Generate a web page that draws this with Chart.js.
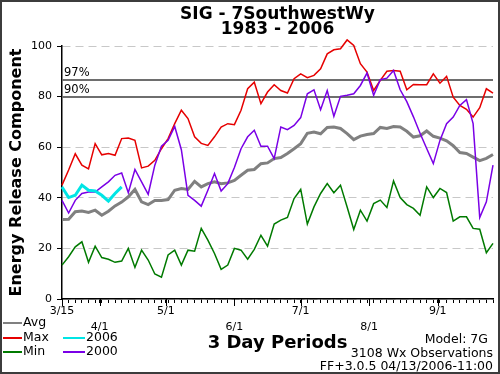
<!DOCTYPE html>
<html>
<head>
<meta charset="utf-8">
<title>SIG - 7SouthwestWy ERC</title>
<script src="https://cdn.jsdelivr.net/npm/chart.js@4.4.1/dist/chart.umd.min.js"></script>
<style>
  html, body { margin: 0; padding: 0; background: #fff; }
  #wrap { position: relative; width: 500px; height: 374px; box-sizing: border-box; border: 2px solid #3c3c3c;
          font-family: 'DejaVu Sans', sans-serif; color: #000; background: #fff; }
  #chart { position: absolute; left: 0; top: 0; }
  .key { position: absolute; font-size: 12.5px; line-height: 14px; white-space: nowrap; }
  .key i { display: inline-block; width: 19px; height: 2px; vertical-align: middle; margin-right: 1px; }
  .note { position: absolute; font-size: 12.5px; line-height: 14px; white-space: nowrap; text-align: right; }
</style>
</head>
<body>
<div id="wrap">
  <canvas id="chart" width="496" height="370"></canvas>
  <div id="keys"></div>
  <div class="note" style="right:10px; top:330px">Model: 7G</div>
  <div class="note" style="right:5px; top:344px">3108 Wx Observations</div>
  <div class="note" style="right:5px; top:357px">FF+3.0.5 04/13/2006-11:00</div>
</div>
<script>
// 3-day periods starting 3/15
const periods = Array.from({ length: 66 }, (_, i) => i);

const monthLabels = ['3/15', '4/1', '5/1', '6/1', '7/1', '8/1', '9/1'];
const monthDays = [0, 17, 47, 78, 108, 139, 170]; // days after 3/15

const pctLabels = ['97%', '90%'];
const pctValues = [86.5, 80];

const avg = [31.4, 31.5, 34.5, 34.8, 34.2, 35.1, 33.1, 34.7, 36.8, 38.3,
  40.4, 43.3, 38.4, 37.3, 38.9, 38.9, 39.3, 43.0, 43.7, 43.3,
  46.5, 44.3, 45.6, 46.3, 45.6, 45.9, 46.9, 48.9, 50.9, 51.2,
  53.5, 53.8, 55.5, 55.9, 57.5, 59.4, 61.4, 65.5, 66.0, 65.3,
  67.8, 68.0, 67.4, 65.4, 63.0, 64.4, 65.0, 65.4, 67.8, 67.4,
  68.2, 68.0, 66.3, 64.0, 64.5, 66.4, 64.3, 63.6, 62.5, 60.6,
  57.9, 57.5, 56.1, 54.7, 55.6, 57.1];

const max = [45, 51, 57.4, 52.9, 51.4, 61.4, 57, 57.5, 56.8, 63.4,
  63.6, 62.7, 51.8, 52.5, 54.8, 59.4, 63.4, 69.3, 74.6, 71.3,
  64.1, 61.5, 60.7, 64.1, 68, 69.3, 68.9, 74.6, 83.1, 85.7,
  77.2, 81.8, 84.7, 82.4, 81.4, 87.1, 89.0, 87.5, 88.4, 91,
  96.9, 98.5, 98.9, 102.4, 100.2, 93, 89.7, 82.4, 86.4, 90,
  90.3, 90, 82.7, 84.8, 84.7, 84.7, 89, 85.3, 88, 79.8,
  76.5, 75, 71.9, 75.6, 83.1, 81.4];

const min = [13.4, 16.7, 20.6, 22.6, 14.5, 20.9, 16.4, 15.7, 14.5, 15,
  20, 12.5, 19.3, 15.4, 9.9, 8.6, 17.4, 19.3, 13.4, 19.3,
  18.9, 27.9, 23.3, 18.0, 11.7, 13.4, 20, 19.3, 15.7, 19.6,
  25.2, 20.9, 29.6, 31.2, 32.2, 39.7, 43.3, 29.6, 36.4, 41.7,
  45.6, 42, 45, 36.4, 27.5, 35.1, 30.8, 37.7, 39.1, 36.2,
  46.7, 40.1, 37.3, 35.8, 33.1, 44.3, 40.1, 43.7, 42.1, 30.8,
  32.5, 32.5, 27.9, 27.6, 18.3, 22];

const y2006 = [44.3, 40.1, 41, 45, 43, 42.7, 41, 38.7, 41.7, 44.3];

const y2000 = [39, 34, 39, 41.7, 42.3, 42.3, 44.3, 46.3, 48.9, 49.8,
  42, 51.2, 46.3, 41.4, 52.9, 60.4, 62.7, 68.2, 59, 41,
  39, 36.7, 43, 49.6, 42.7, 45.6, 52, 59.4, 64.1, 66.7,
  60.4, 60.4, 55.5, 68, 66.9, 68.6, 71.7, 81.1, 82.7, 74.8,
  82.4, 72.2, 80.1, 80.5, 81.1, 84.4, 89.3, 80.5, 86.7, 87.3,
  90.3, 82.7, 78, 72, 65.5, 59.5, 53.5, 62.7, 69.3, 71.9,
  76.5, 78.8, 69.3, 32.2, 38.4, 52.9];

const series = [
  { label: 'Avg', data: avg, color: '#808080', width: 3 },
  { label: 'Max', data: max, color: '#e60000', width: 1.5 },
  { label: 'Min', data: min, color: '#007a00', width: 1.5 },
  { label: '2006', data: y2006, color: '#00e5e5', width: 3 },
  { label: '2000', data: y2000, color: '#7a00e6', width: 1.5 }
];
// drawn on top first
const drawOrder = ['2006', '2000', 'Avg', 'Max', 'Min'];

Chart.defaults.font.family = 'DejaVu Sans';
Chart.defaults.color = '#000';

// legend in two columns under the axis
const keyPos = [[1, 313], [1, 328], [1, 342], [61, 328], [61, 342]];
const keys = document.getElementById('keys');
series.forEach((s, i) => {
  const d = document.createElement('div');
  d.className = 'key';
  d.style.left = keyPos[i][0] + 'px';
  d.style.top = keyPos[i][1] + 'px';
  d.innerHTML = '<i style="background:' + s.color + (i > 2 ? ';width:22px' : '') + '"></i>' + s.label;
  keys.appendChild(d);
});

const monthValue = d => d / 3;

const refLines = {
  id: 'refLines',
  beforeDatasetsDraw(chart) {
    const { ctx, chartArea, scales: { y } } = chart;
    ctx.save();
    ctx.strokeStyle = '#6e6e6e';
    ctx.lineWidth = 2;
    ctx.fillStyle = '#000';
    ctx.font = '11.5px "DejaVu Sans"';
    ctx.textBaseline = 'bottom';
    pctValues.forEach((v, i) => {
      const py = Math.round(y.getPixelForValue(v));
      ctx.beginPath();
      ctx.moveTo(chartArea.left, py);
      ctx.lineTo(chartArea.right, py);
      ctx.stroke();
      ctx.fillText(pctLabels[i], chartArea.left + 2, py - 1);
    });
    ctx.restore();
  },
  afterDraw(chart) {
    const { ctx, chartArea, scales: { x } } = chart;
    ctx.save();
    ctx.strokeStyle = '#000';
    ctx.lineWidth = 1;
    monthDays.forEach(d => {
      const px = Math.round(x.getPixelForValue(monthValue(d))) + 0.5;
      ctx.beginPath();
      ctx.moveTo(px, chartArea.bottom);
      ctx.lineTo(px, chartArea.bottom + 7);
      ctx.stroke();
    });
    ctx.restore();
  }
};

new Chart(document.getElementById('chart'), {
  type: 'line',
  data: {
    labels: periods,
    datasets: series.map(s => ({
      label: s.label,
      data: s.data,
      order: drawOrder.indexOf(s.label),
      borderColor: s.color,
      backgroundColor: s.color,
      borderWidth: s.width,
      pointRadius: 0,
      tension: 0,
      fill: false,
      clip: false
    }))
  },
  options: {
    responsive: false,
    devicePixelRatio: 1,
    animation: false,
    events: [],
    layout: { padding: { left: 0, right: 5, top: 0, bottom: 0 } },
    plugins: {
      legend: { display: false },
      tooltip: { enabled: false },
      title: {
        display: true,
        fullSize: false,
        text: ['SIG - 7SouthwestWy', '1983 - 2006'],
        color: '#000',
        font: { size: 17, weight: 'bold', lineHeight: '15px' },
        padding: { top: 5, bottom: 9 }
      }
    },
    scales: {
      x: {
        type: 'linear',
        min: 0,
        max: periods.length - 1,
        afterFit(scale) { scale.height = 73; },
        afterBuildTicks(scale) {
          const t = periods.map(p => ({ value: p }));
          monthDays.forEach(d => {
            const v = monthValue(d);
            if (!t.some(k => Math.abs(k.value - v) < 1e-6)) t.push({ value: v });
          });
          t.sort((a, b) => a.value - b.value);
          scale.ticks = t;
        },
        ticks: {
          autoSkip: false,
          maxRotation: 0,
          minRotation: 0,
          padding: 0,
          color: '#000',
          font: { size: 11, lineHeight: '16px' },
          callback(value) {
            const k = monthDays.findIndex(d => Math.abs(monthValue(d) - value) < 1e-6);
            if (k < 0) return '';
            return k % 2 ? ['', monthLabels[k]] : monthLabels[k];
          }
        },
        grid: { drawOnChartArea: false, color: '#000', tickLength: 4, lineWidth: 1 },
        border: { color: '#000', width: 1.5 },
        title: {
          display: true,
          text: '3 Day Periods',
          color: '#000',
          font: { size: 18, weight: 'bold' },
          padding: { top: 0, bottom: 18 }
        }
      },
      y: {
        min: 0,
        max: 100,
        afterFit(scale) { scale.width = 60; },
        ticks: { stepSize: 20, padding: 5, color: '#000', font: { size: 11 } },
        grid: { color: '#c8c8c8', tickColor: '#000', tickLength: 5, lineWidth: 1, tickBorderDash: [] },
        border: { color: '#000', width: 1.5, dash: [8, 5] },
        title: {
          display: true,
          text: 'Energy Release Component',
          color: '#000',
          font: { size: 16, weight: 'bold' },
          padding: { top: 5, bottom: 0 }
        }
      }
    }
  },
  plugins: [refLines]
});
</script>
</body>
</html>
